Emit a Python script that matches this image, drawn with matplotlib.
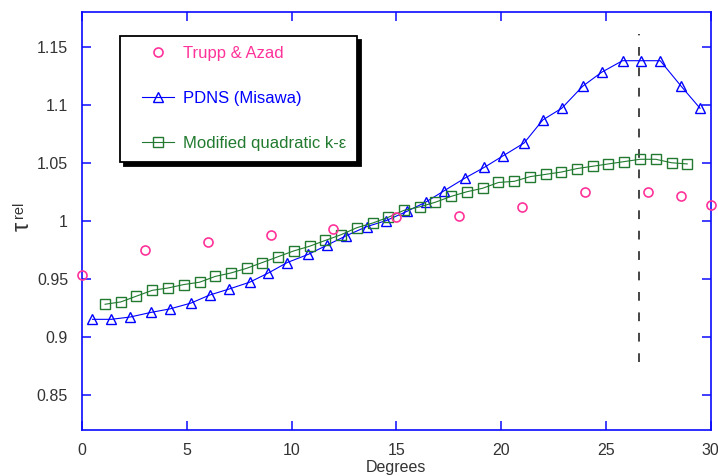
import matplotlib
matplotlib.use("Agg")
import matplotlib.pyplot as plt
from matplotlib.lines import Line2D
from matplotlib.legend_handler import HandlerLine2D

plt.rcParams['font.family'] = ['Liberation Sans', 'DejaVu Sans']

# ---------------- data ----------------
trupp_x = [0, 3, 6, 9, 12, 15, 18, 21, 24, 27, 28.6, 30]
trupp_y = [0.953, 0.975, 0.982, 0.988, 0.993, 1.003, 1.004, 1.012, 1.025, 1.025, 1.021, 1.014]

pdns_x = [0.5, 1.4, 2.3, 3.3, 4.2, 5.2, 6.1, 7.0, 8.0, 8.9, 9.8, 10.8, 11.7, 12.6, 13.6, 14.5,
          15.5, 16.4, 17.3, 18.3, 19.2, 20.1, 21.1, 22.0, 22.9, 23.9, 24.8, 25.8, 26.7, 27.6,
          28.6, 29.5]
pdns_y = [0.915, 0.915, 0.917, 0.921, 0.924, 0.929, 0.936, 0.941, 0.947, 0.955, 0.964, 0.971,
          0.979, 0.987, 0.995, 1.000, 1.008, 1.016, 1.026, 1.037, 1.046, 1.056, 1.067, 1.087,
          1.097, 1.116, 1.128, 1.138, 1.138, 1.138, 1.116, 1.097]

kq_x = [1.10, 1.85, 2.60, 3.35, 4.10, 4.86, 5.61, 6.36, 7.11, 7.86, 8.61, 9.36, 10.11, 10.86,
        11.61, 12.37, 13.12, 13.87, 14.62, 15.37, 16.12, 16.87, 17.62, 18.37, 19.12, 19.88,
        20.63, 21.38, 22.13, 22.88, 23.63, 24.38, 25.13, 25.88, 26.63, 27.39, 28.14, 28.89]
kq_y = [0.928, 0.930, 0.935, 0.940, 0.942, 0.945, 0.947, 0.952, 0.955, 0.959, 0.964, 0.969,
        0.974, 0.978, 0.983, 0.988, 0.994, 0.998, 1.003, 1.009, 1.012, 1.016, 1.021, 1.025,
        1.028, 1.033, 1.034, 1.038, 1.040, 1.042, 1.045, 1.047, 1.049, 1.051, 1.053, 1.053,
        1.050, 1.049]

vline_x = 26.6
vline_ymin = 0.878
vline_ymax = 1.161

xticks = [0, 5, 10, 15, 20, 25, 30]
xtick_labels = ['0', '5', '10', '15', '20', '25', '30']
yticks = [0.85, 0.9, 0.95, 1.0, 1.05, 1.1, 1.15]
ytick_labels = ['0.85', '0.9', '0.95', '1', '1.05', '1.1', '1.15']

series_labels = ['Trupp & Azad', 'PDNS (Misawa)', 'Modified quadratic k-\u03b5']

# ---------------- style ----------------
PINK = '#ff3399'
BLUE = '#0000ff'
GREEN = '#217a2f'
AXBLUE = '#0a0aff'
TXT = '#333333'

fig = plt.figure(figsize=(7.18, 4.76), dpi=100)
ax = fig.add_axes([82 / 718, 46.5 / 476, 628.5 / 718, 417.5 / 476])

ax.plot(trupp_x, trupp_y, linestyle='none', marker='o', ms=6.5, mfc='none', mec=PINK,
        mew=1.2, label=series_labels[0], clip_on=False, zorder=5)
ax.plot(pdns_x, pdns_y, linestyle='-', color=BLUE, lw=0.8, marker='^', ms=7.5, mfc='none',
        mec=BLUE, mew=1.0, label=series_labels[1], zorder=4)
ax.plot(kq_x, kq_y, linestyle='-', color=GREEN, lw=0.8, marker='s', ms=7.3, mfc='none',
        mec=GREEN, mew=1.0, label=series_labels[2], zorder=4)

ax.vlines(vline_x, vline_ymin, vline_ymax, colors='#444444', linestyles=(0, (4.5, 6)),
          linewidth=1.4, zorder=3)

ax.set_xlim(0, 30)
ax.set_ylim(0.82, 1.18)
ax.set_xticks(xticks)
ax.set_xticklabels(xtick_labels)
ax.set_yticks(yticks)
ax.set_yticklabels(ytick_labels)

for s in ax.spines.values():
    s.set_color(AXBLUE)
    s.set_linewidth(1.2)

ax.tick_params(direction='in', length=6.5, width=1.1, color=AXBLUE, labelcolor=TXT,
               labelsize=11.5, top=True, right=True)
ax.tick_params(axis='x', pad=9.5)
ax.tick_params(axis='y', pad=10)

ax.set_xlabel('Degrees', fontsize=11.5, color=TXT, labelpad=1.5)

fig.text(23 / 718, 1 - 226 / 476, '\u03c4', rotation=90, fontsize=17, color=TXT,
         ha='center', va='center')
fig.text(19.5 / 718, 1 - 210 / 476, 'rel', rotation=90, fontsize=10.5, color=TXT,
         ha='center', va='center')

leg = ax.legend(loc='upper left', bbox_to_anchor=((120 - 82) / 628.5, (429.5 - 35.5) / 417.5),
                borderaxespad=0, fontsize=12, frameon=True, fancybox=False,
                shadow={'ox': 3, 'oy': -3, 'color': 'black', 'alpha': 1},
                borderpad=0.65, labelspacing=1.8, handlelength=2.6, handletextpad=0.54,
                handler_map={Line2D: HandlerLine2D(numpoints=1, xpad=0.68)},
                labelcolor=[PINK, BLUE, GREEN])
leg.get_frame().set_edgecolor('black')
leg.get_frame().set_linewidth(1.3)
leg.get_frame().set_facecolor('white')
leg.get_frame().set_alpha(1)

fig.savefig('out.png', dpi=100)
